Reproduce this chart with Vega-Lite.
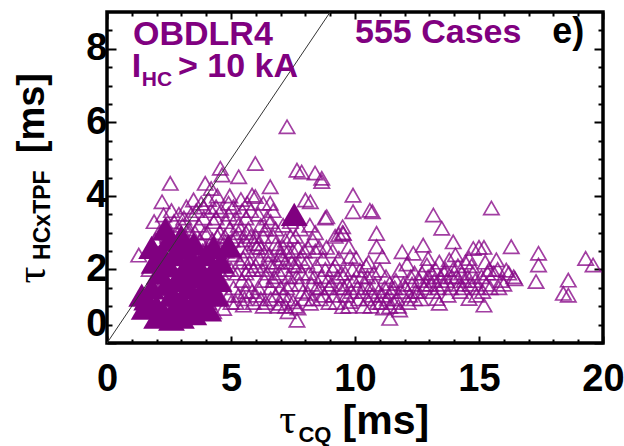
{
  "$schema": "https://vega.github.io/schema/vega-lite/v6.json",
  "width": 496,
  "height": 331,
  "autosize": {"type": "none"},
  "padding": {"left": 107, "top": 12, "right": 21, "bottom": 103},
  "background": "white",
  "config": {
    "view": {"stroke": "black", "strokeWidth": 3.5},
    "axis": {"domain": false, "grid": false, "tickColor": "black", "tickWidth": 2, "labelFont": "Liberation Sans", "labelFontWeight": "bold", "labelFontSize": 38, "labelColor": "black"}
  },
  "datasets": {
    "open": [
      {"cq":1.28,"hc":2.39},{"cq":1.75,"hc":1.03},{"cq":1.6,"hc":0.9},{"cq":1.9,"hc":3.3},{"cq":1.7,"hc":2.0},{"cq":1.95,"hc":2.8},
      {"cq":2.22,"hc":3.84},{"cq":2.55,"hc":4.34},{"cq":2.28,"hc":3.48},{"cq":2.1,"hc":3.0},{"cq":2.4,"hc":3.2},{"cq":2.3,"hc":1.0},{"cq":2.45,"hc":2.9},{"cq":2.05,"hc":1.4},
      {"cq":2.89,"hc":0.9},{"cq":2.6,"hc":3.6},{"cq":2.7,"hc":3.3},{"cq":2.8,"hc":3.0},{"cq":2.9,"hc":3.5},{"cq":2.65,"hc":2.8},{"cq":2.95,"hc":2.7},{"cq":2.75,"hc":1.1},{"cq":2.6,"hc":0.85},
      {"cq":3.49,"hc":3.89},{"cq":3.1,"hc":3.4},{"cq":3.2,"hc":3.7},{"cq":3.3,"hc":3.1},{"cq":3.4,"hc":3.5},{"cq":3.15,"hc":2.9},{"cq":3.45,"hc":2.7},{"cq":3.05,"hc":3.2},{"cq":3.35,"hc":0.85},{"cq":3.25,"hc":1.0},{"cq":3.4,"hc":2.5},
      {"cq":3.96,"hc":4.34},{"cq":3.6,"hc":3.6},{"cq":3.7,"hc":3.2},{"cq":3.8,"hc":3.8},{"cq":3.9,"hc":3.4},{"cq":3.55,"hc":3.0},{"cq":3.75,"hc":2.8},{"cq":3.85,"hc":2.5},{"cq":3.9,"hc":0.9},{"cq":3.65,"hc":1.2},{"cq":3.95,"hc":3.0},{"cq":3.6,"hc":2.2},{"cq":3.8,"hc":1.7},
      {"cq":4.3,"hc":0.85},{"cq":4.1,"hc":3.9},{"cq":4.2,"hc":3.6},{"cq":4.3,"hc":3.3},{"cq":4.4,"hc":3.7},{"cq":4.05,"hc":3.0},{"cq":4.25,"hc":2.8},{"cq":4.45,"hc":2.9},{"cq":4.15,"hc":2.2},{"cq":4.35,"hc":2.5},{"cq":4.4,"hc":1.9},{"cq":4.1,"hc":1.1},{"cq":4.3,"hc":1.5},{"cq":4.45,"hc":4.0},{"cq":4.2,"hc":4.2},
      {"cq":4.57,"hc":4.75},{"cq":4.64,"hc":4.57},{"cq":4.7,"hc":0.94},{"cq":4.6,"hc":3.6},{"cq":4.8,"hc":3.3},{"cq":4.9,"hc":3.8},{"cq":4.55,"hc":3.0},{"cq":4.75,"hc":2.9},{"cq":4.95,"hc":3.1},{"cq":4.65,"hc":2.3},{"cq":4.85,"hc":2.0},{"cq":4.7,"hc":1.6},{"cq":4.9,"hc":1.3},{"cq":4.6,"hc":1.9},{"cq":4.8,"hc":2.5},{"cq":4.95,"hc":4.0},
      {"cq":5.31,"hc":4.52},{"cq":5.5,"hc":1.03},{"cq":5.1,"hc":3.7},{"cq":5.2,"hc":3.4},{"cq":5.3,"hc":3.0},{"cq":5.45,"hc":3.6},{"cq":5.05,"hc":2.8},{"cq":5.15,"hc":2.4},{"cq":5.35,"hc":2.2},{"cq":5.4,"hc":2.6},{"cq":5.25,"hc":1.9},{"cq":5.1,"hc":1.5},{"cq":5.3,"hc":1.3},{"cq":5.45,"hc":1.7},{"cq":5.2,"hc":1.1},{"cq":5.4,"hc":3.9},{"cq":5.0,"hc":2.0},
      {"cq":5.98,"hc":4.88},{"cq":5.85,"hc":4.02},{"cq":5.98,"hc":3.98},{"cq":5.9,"hc":1.1},{"cq":5.6,"hc":3.4},{"cq":5.7,"hc":3.1},{"cq":5.8,"hc":3.6},{"cq":5.55,"hc":2.8},{"cq":5.65,"hc":2.5},{"cq":5.75,"hc":2.2},{"cq":5.95,"hc":2.7},{"cq":5.6,"hc":1.9},{"cq":5.7,"hc":1.6},{"cq":5.85,"hc":1.4},{"cq":5.9,"hc":2.0},{"cq":5.55,"hc":1.2},{"cq":5.8,"hc":2.9},{"cq":5.65,"hc":3.8},
      {"cq":6.1,"hc":3.5},{"cq":6.2,"hc":3.2},{"cq":6.3,"hc":2.9},{"cq":6.45,"hc":3.4},{"cq":6.05,"hc":2.6},{"cq":6.15,"hc":2.3},{"cq":6.25,"hc":2.0},{"cq":6.4,"hc":2.5},{"cq":6.35,"hc":1.7},{"cq":6.1,"hc":1.5},{"cq":6.2,"hc":1.2},{"cq":6.45,"hc":1.9},{"cq":6.3,"hc":3.8},{"cq":6.0,"hc":2.1},{"cq":6.4,"hc":1.1},
      {"cq":6.58,"hc":4.25},{"cq":6.58,"hc":3.8},{"cq":7.0,"hc":1.08},{"cq":6.6,"hc":3.3},{"cq":6.7,"hc":2.9},{"cq":6.8,"hc":3.1},{"cq":6.9,"hc":2.6},{"cq":6.55,"hc":2.4},{"cq":6.65,"hc":2.1},{"cq":6.75,"hc":1.8},{"cq":6.85,"hc":2.2},{"cq":6.95,"hc":1.9},{"cq":6.6,"hc":1.5},{"cq":6.8,"hc":1.3},{"cq":6.7,"hc":3.6},{"cq":6.9,"hc":1.0},
      {"cq":7.26,"hc":5.88},{"cq":7.5,"hc":1.12},{"cq":7.1,"hc":3.2},{"cq":7.2,"hc":2.8},{"cq":7.3,"hc":2.5},{"cq":7.4,"hc":2.9},{"cq":7.05,"hc":2.3},{"cq":7.15,"hc":2.0},{"cq":7.35,"hc":1.8},{"cq":7.45,"hc":2.2},{"cq":7.25,"hc":1.5},{"cq":7.1,"hc":1.3},{"cq":7.4,"hc":3.3},{"cq":7.2,"hc":1.0},{"cq":7.3,"hc":0.85},
      {"cq":7.66,"hc":4.7},{"cq":7.66,"hc":0.62},{"cq":7.85,"hc":4.65},{"cq":7.9,"hc":1.4},{"cq":8.0,"hc":3.89},{"cq":7.6,"hc":2.9},{"cq":7.7,"hc":2.6},{"cq":7.8,"hc":2.3},{"cq":7.95,"hc":2.5},{"cq":7.55,"hc":2.1},{"cq":7.65,"hc":1.8},{"cq":7.75,"hc":1.6},{"cq":7.85,"hc":1.9},{"cq":7.95,"hc":1.2},{"cq":7.6,"hc":1.0},{"cq":7.8,"hc":3.1},{"cq":7.7,"hc":0.95},
      {"cq":8.2,"hc":3.84},{"cq":8.39,"hc":4.62},{"cq":8.18,"hc":3.2},{"cq":8.2,"hc":1.08},{"cq":8.1,"hc":1.35},{"cq":8.3,"hc":2.8},{"cq":8.4,"hc":2.5},{"cq":8.05,"hc":2.2},{"cq":8.15,"hc":1.9},{"cq":8.25,"hc":1.6},{"cq":8.35,"hc":1.8},{"cq":8.45,"hc":2.1},{"cq":8.3,"hc":1.2},{"cq":8.45,"hc":1.5},{"cq":8.1,"hc":2.6},{"cq":8.4,"hc":3.0},
      {"cq":8.66,"hc":4.48},{"cq":8.66,"hc":4.39},{"cq":8.86,"hc":3.43},{"cq":8.8,"hc":3.4},{"cq":8.6,"hc":1.2},{"cq":8.55,"hc":2.6},{"cq":8.7,"hc":2.3},{"cq":8.8,"hc":2.0},{"cq":8.9,"hc":1.7},{"cq":8.6,"hc":1.5},{"cq":8.75,"hc":1.3},{"cq":8.95,"hc":1.5},{"cq":8.65,"hc":1.8},{"cq":8.85,"hc":2.6},{"cq":8.95,"hc":1.1},
      {"cq":9.2,"hc":2.9},{"cq":9.35,"hc":2.95},{"cq":9.5,"hc":3.0},{"cq":9.5,"hc":3.16},{"cq":9.5,"hc":0.99},{"cq":9.1,"hc":2.5},{"cq":9.2,"hc":2.1},{"cq":9.3,"hc":1.8},{"cq":9.4,"hc":1.5},{"cq":9.05,"hc":1.6},{"cq":9.15,"hc":1.3},{"cq":9.25,"hc":1.1},{"cq":9.45,"hc":1.9},{"cq":9.35,"hc":2.3},{"cq":9.1,"hc":2.0},
      {"cq":9.92,"hc":4.02},{"cq":9.92,"hc":3.57},{"cq":9.53,"hc":2.98},{"cq":9.75,"hc":2.62},{"cq":9.8,"hc":2.35},{"cq":9.8,"hc":1.13},{"cq":9.6,"hc":1.9},{"cq":9.7,"hc":1.6},{"cq":9.85,"hc":1.4},{"cq":9.65,"hc":1.3},{"cq":9.95,"hc":1.7},{"cq":9.55,"hc":1.5},{"cq":9.9,"hc":2.0},{"cq":9.75,"hc":1.0},
      {"cq":10.2,"hc":1.98},{"cq":10.5,"hc":1.8},{"cq":10.5,"hc":1.2},{"cq":10.1,"hc":1.5},{"cq":10.3,"hc":1.4},{"cq":10.4,"hc":1.6},{"cq":10.15,"hc":1.2},{"cq":10.35,"hc":1.0},{"cq":10.45,"hc":2.1},{"cq":10.25,"hc":1.8},{"cq":10.05,"hc":2.3},
      {"cq":10.6,"hc":3.61},{"cq":10.7,"hc":3.57},{"cq":10.87,"hc":2.98},{"cq":10.87,"hc":2.62},{"cq":10.6,"hc":1.5},{"cq":10.7,"hc":1.3},{"cq":10.8,"hc":1.6},{"cq":10.9,"hc":1.1},{"cq":10.65,"hc":1.0},{"cq":10.95,"hc":1.4},{"cq":10.75,"hc":1.9},{"cq":10.55,"hc":2.2},
      {"cq":11.1,"hc":2.35},{"cq":11.0,"hc":1.98},{"cq":11.4,"hc":1.62},{"cq":11.4,"hc":0.99},{"cq":11.4,"hc":0.67},{"cq":11.1,"hc":1.3},{"cq":11.2,"hc":1.5},{"cq":11.3,"hc":1.2},{"cq":11.05,"hc":1.1},{"cq":11.25,"hc":1.8},{"cq":11.45,"hc":1.4},{"cq":11.15,"hc":0.95},
      {"cq":11.9,"hc":2.48},{"cq":11.8,"hc":1.98},{"cq":11.8,"hc":0.9},{"cq":11.6,"hc":1.5},{"cq":11.7,"hc":1.2},{"cq":11.85,"hc":1.4},{"cq":11.55,"hc":1.1},{"cq":11.65,"hc":1.7},{"cq":11.95,"hc":1.6},{"cq":11.75,"hc":1.0},
      {"cq":12.35,"hc":2.44},{"cq":12.1,"hc":2.15},{"cq":12.2,"hc":1.3},{"cq":12.3,"hc":1.6},{"cq":12.4,"hc":1.9},{"cq":12.05,"hc":1.5},{"cq":12.15,"hc":1.1},{"cq":12.45,"hc":1.4},{"cq":12.25,"hc":1.8},{"cq":12.4,"hc":1.2},
      {"cq":12.75,"hc":2.66},{"cq":12.9,"hc":2.12},{"cq":12.6,"hc":1.7},{"cq":12.7,"hc":1.9},{"cq":12.8,"hc":1.5},{"cq":12.95,"hc":1.8},{"cq":12.55,"hc":1.4},{"cq":12.65,"hc":1.2},{"cq":12.85,"hc":1.6},{"cq":12.95,"hc":2.3},
      {"cq":13.16,"hc":3.48},{"cq":13.5,"hc":3.12},{"cq":13.4,"hc":2.2},{"cq":13.3,"hc":1.21},{"cq":13.4,"hc":1.08},{"cq":13.1,"hc":1.9},{"cq":13.2,"hc":1.7},{"cq":13.35,"hc":1.5},{"cq":13.45,"hc":1.8},{"cq":13.05,"hc":1.6},{"cq":13.25,"hc":2.0},{"cq":13.15,"hc":1.4},
      {"cq":13.96,"hc":2.75},{"cq":13.8,"hc":2.26},{"cq":13.6,"hc":1.9},{"cq":13.7,"hc":1.7},{"cq":13.85,"hc":1.5},{"cq":13.55,"hc":1.6},{"cq":13.65,"hc":2.0},{"cq":13.9,"hc":1.8},{"cq":13.75,"hc":1.3},{"cq":13.95,"hc":2.0},
      {"cq":14.1,"hc":1.8},{"cq":14.2,"hc":1.6},{"cq":14.3,"hc":1.9},{"cq":14.4,"hc":1.7},{"cq":14.15,"hc":2.1},{"cq":14.35,"hc":1.5},{"cq":14.45,"hc":2.2},{"cq":14.25,"hc":1.4},{"cq":14.05,"hc":2.4},
      {"cq":14.77,"hc":2.57},{"cq":14.6,"hc":1.21},{"cq":14.55,"hc":1.8},{"cq":14.65,"hc":1.6},{"cq":14.75,"hc":1.9},{"cq":14.85,"hc":1.7},{"cq":14.95,"hc":1.5},{"cq":14.7,"hc":2.1},{"cq":14.9,"hc":1.3},{"cq":14.6,"hc":2.3},
      {"cq":15.0,"hc":2.6},{"cq":15.2,"hc":2.6},{"cq":15.5,"hc":3.67},{"cq":15.2,"hc":1.03},{"cq":15.1,"hc":1.8},{"cq":15.3,"hc":1.6},{"cq":15.4,"hc":2.0},{"cq":15.15,"hc":1.4},{"cq":15.35,"hc":1.9},{"cq":15.45,"hc":1.5},{"cq":15.25,"hc":2.2},
      {"cq":15.7,"hc":2.26},{"cq":16.1,"hc":1.98},{"cq":16.4,"hc":1.8},{"cq":15.9,"hc":1.7},{"cq":16.3,"hc":2.62},{"cq":15.6,"hc":1.9},{"cq":15.8,"hc":1.5},{"cq":16.0,"hc":1.6},{"cq":16.2,"hc":1.9},{"cq":15.75,"hc":2.0},{"cq":16.45,"hc":1.75},
      {"cq":17.4,"hc":2.44},{"cq":17.4,"hc":2.12},{"cq":17.3,"hc":1.67},{"cq":19.3,"hc":2.3},{"cq":19.6,"hc":2.12},{"cq":18.6,"hc":1.71},{"cq":18.4,"hc":1.35},{"cq":18.6,"hc":1.3},
      {"cq":2.3,"hc":2.0},{"cq":2.5,"hc":2.6},{"cq":2.8,"hc":2.2},{"cq":3.0,"hc":1.8},{"cq":3.2,"hc":2.4},{"cq":3.5,"hc":2.0},{"cq":3.7,"hc":1.5},{"cq":4.0,"hc":2.6},{"cq":4.2,"hc":1.4},{"cq":4.5,"hc":2.6},{"cq":4.7,"hc":2.7},{"cq":5.0,"hc":2.5},{"cq":5.2,"hc":2.9},{"cq":5.5,"hc":2.3},{"cq":5.7,"hc":2.0},{"cq":6.0,"hc":2.9},{"cq":6.2,"hc":2.6},{"cq":6.5,"hc":2.2},{"cq":6.7,"hc":1.7},{"cq":7.0,"hc":2.4},{"cq":7.2,"hc":2.2},{"cq":7.5,"hc":2.5},{"cq":7.7,"hc":2.1},{"cq":3.3,"hc":3.0},{"cq":3.6,"hc":2.7},{"cq":3.9,"hc":3.7},{"cq":4.4,"hc":3.4},{"cq":4.9,"hc":3.5},{"cq":5.3,"hc":3.2},{"cq":5.6,"hc":3.0},{"cq":6.1,"hc":2.7},{"cq":6.4,"hc":3.1},{"cq":6.8,"hc":2.7},{"cq":7.1,"hc":2.6},{"cq":7.4,"hc":1.6},{"cq":2.6,"hc":1.9},{"cq":2.9,"hc":1.4},{"cq":3.1,"hc":1.1},{"cq":3.4,"hc":1.3},{"cq":3.7,"hc":1.0},{"cq":4.6,"hc":1.2},{"cq":5.0,"hc":1.1},{"cq":5.6,"hc":1.4},{"cq":6.0,"hc":1.3},{"cq":6.3,"hc":1.0},{"cq":6.6,"hc":1.2},{"cq":7.0,"hc":1.5},{"cq":7.3,"hc":1.2}
    ],
    "filled": [
      {"cq":1.6,"hc":1.2},{"cq":1.8,"hc":1.5},{"cq":2.0,"hc":1.0},{"cq":2.1,"hc":1.9},{"cq":2.2,"hc":2.45},{"cq":2.35,"hc":3.1},{"cq":2.5,"hc":2.1},{"cq":2.6,"hc":1.3},{"cq":2.7,"hc":0.9},{"cq":2.8,"hc":1.7},{"cq":2.9,"hc":2.6},{"cq":3.0,"hc":1.2},{"cq":3.1,"hc":2.0},{"cq":3.2,"hc":0.9},{"cq":3.3,"hc":1.5},{"cq":3.4,"hc":2.3},{"cq":3.5,"hc":1.1},{"cq":3.6,"hc":1.8},{"cq":3.7,"hc":2.1},{"cq":3.8,"hc":1.4},{"cq":4.0,"hc":2.4},{"cq":4.0,"hc":1.6},{"cq":4.2,"hc":1.9},{"cq":4.4,"hc":1.3},{"cq":4.6,"hc":2.2},{"cq":4.9,"hc":2.65},{"cq":1.9,"hc":2.2},{"cq":2.4,"hc":1.6},{"cq":2.7,"hc":2.4},{"cq":3.0,"hc":2.9},{"cq":1.5,"hc":0.95},{"cq":2.3,"hc":0.8},{"cq":7.55,"hc":3.5},{"cq":3.9,"hc":1.0},{"cq":4.5,"hc":1.7},
      {"cq":1.4,"hc":1.3},{"cq":2.0,"hc":0.7},{"cq":2.6,"hc":0.65},{"cq":3.0,"hc":0.7},{"cq":3.5,"hc":0.8},{"cq":4.1,"hc":0.9},{"cq":1.8,"hc":2.6},{"cq":3.5,"hc":2.7},{"cq":4.3,"hc":2.6},{"cq":3.2,"hc":1.8},{"cq":2.5,"hc":2.8}
    ],
    "diag": [{"cq":0,"hc":0},{"cq":9,"hc":9}]
  },
  "resolve": {"axis": {"x": "independent", "y": "independent"}},
  "layer": [
    {
      "data": {"name": "open"},
      "mark": {"type": "point", "shape": "triangle-up", "filled": false, "size": 235, "color": "#880888", "strokeWidth": 1.7, "opacity": 0.78},
      "encoding": {
        "x": {"field": "cq", "type": "quantitative", "scale": {"domain": [0, 20], "nice": false, "zero": false},
              "axis": {"orient": "bottom", "title": null, "values": [0, 5, 10, 15, 20], "tickSize": -7, "labelPadding": 24, "labelFlush": false, "labelOverlap": false}},
        "y": {"field": "hc", "type": "quantitative", "scale": {"domain": [0, 9], "nice": false, "zero": false},
              "axis": {"orient": "left", "title": null, "values": [0, 2, 4, 6, 8], "tickSize": -9, "labelPadding": 9, "labelFlush": true, "labelOverlap": false}}
      }
    },
    {
      "data": {"name": "filled"},
      "mark": {"type": "point", "shape": "triangle-up", "filled": true, "size": 720, "color": "#800080", "opacity": 1},
      "encoding": {
        "x": {"field": "cq", "type": "quantitative", "axis": {"orient": "bottom", "title": null, "values": [1,2,3,4,6,7,8,9,11,12,13,14,16,17,18,19], "tickSize": -4, "labels": false}},
        "y": {"field": "hc", "type": "quantitative", "axis": {"orient": "left", "title": null, "values": [0.5,1,1.5,2.5,3,3.5,4.5,5,5.5,6.5,7,7.5,8.5], "tickSize": -5, "labels": false}}
      }
    },
    {
      "data": {"name": "diag"},
      "mark": {"type": "line", "color": "#333333", "strokeWidth": 1, "clip": true},
      "encoding": {
        "x": {"field": "cq", "type": "quantitative", "axis": {"orient": "top", "title": null, "values": [0, 5, 10, 15, 20], "tickSize": -7, "labels": false}},
        "y": {"field": "hc", "type": "quantitative", "axis": {"orient": "right", "title": null, "values": [0, 2, 4, 6, 8], "tickSize": -9, "labels": false}}
      }
    },
    {
      "data": {"values": [{}]},
      "mark": {"type": "text", "text": "OBDLR4", "font": "Liberation Sans", "fontWeight": "bold", "fontSize": 34, "color": "#800080", "align": "left", "baseline": "alphabetic"},
      "encoding": {
        "x": {"datum": 1.05, "type": "quantitative", "axis": {"orient": "top", "title": null, "values": [1,2,3,4,6,7,8,9,11,12,13,14,16,17,18,19], "tickSize": -4, "labels": false}},
        "y": {"datum": 8.1, "type": "quantitative", "axis": {"orient": "right", "title": null, "values": [0.5,1,1.5,2.5,3,3.5,4.5,5,5.5,6.5,7,7.5,8.5], "tickSize": -5, "labels": false}}
      }
    },
    {
      "data": {"values": [{}]},
      "mark": {"type": "text", "text": "I", "font": "Liberation Sans", "fontWeight": "bold", "fontSize": 34, "color": "#800080", "align": "left", "baseline": "alphabetic"},
      "encoding": {"x": {"datum": 1.0, "type": "quantitative", "axis": null}, "y": {"datum": 7.23, "type": "quantitative", "axis": null}}
    },
    {
      "data": {"values": [{}]},
      "mark": {"type": "text", "text": "HC", "font": "Liberation Sans", "fontWeight": "bold", "fontSize": 21, "color": "#800080", "align": "left", "baseline": "alphabetic"},
      "encoding": {"x": {"datum": 1.4, "type": "quantitative", "axis": null}, "y": {"datum": 7.0, "type": "quantitative", "axis": null}}
    },
    {
      "data": {"values": [{}]},
      "mark": {"type": "text", "text": "> 10 kA", "font": "Liberation Sans", "fontWeight": "bold", "fontSize": 34, "color": "#800080", "align": "left", "baseline": "alphabetic"},
      "encoding": {"x": {"datum": 2.86, "type": "quantitative", "axis": null}, "y": {"datum": 7.23, "type": "quantitative", "axis": null}}
    },
    {
      "data": {"values": [{}]},
      "mark": {"type": "text", "text": "555 Cases", "font": "Liberation Sans", "fontWeight": "bold", "fontSize": 34, "color": "#800080", "align": "left", "baseline": "alphabetic"},
      "encoding": {"x": {"datum": 10.0, "type": "quantitative", "axis": null}, "y": {"datum": 8.15, "type": "quantitative", "axis": null}}
    },
    {
      "data": {"values": [{}]},
      "mark": {"type": "text", "text": "e)", "font": "Liberation Sans", "fontWeight": "bold", "fontSize": 36, "color": "black", "align": "left", "baseline": "alphabetic"},
      "encoding": {"x": {"datum": 17.95, "type": "quantitative", "axis": null}, "y": {"datum": 8.15, "type": "quantitative", "axis": null}}
    },
    {
      "data": {"values": [{}]},
      "mark": {"type": "text", "text": "τ", "font": "Liberation Serif", "fontSize": 42, "color": "black", "align": "left", "baseline": "alphabetic"},
      "encoding": {"x": {"datum": 6.95, "type": "quantitative", "axis": null}, "y": {"datum": -2.45, "type": "quantitative", "axis": null}}
    },
    {
      "data": {"values": [{}]},
      "mark": {"type": "text", "text": "CQ", "font": "Liberation Sans", "fontWeight": "bold", "fontSize": 22, "color": "black", "align": "left", "baseline": "alphabetic"},
      "encoding": {"x": {"datum": 7.72, "type": "quantitative", "axis": null}, "y": {"datum": -2.7, "type": "quantitative", "axis": null}}
    },
    {
      "data": {"values": [{}]},
      "mark": {"type": "text", "text": "[ms]", "font": "Liberation Sans", "fontWeight": "bold", "fontSize": 41, "color": "black", "align": "left", "baseline": "alphabetic"},
      "encoding": {"x": {"datum": 9.5, "type": "quantitative", "axis": null}, "y": {"datum": -2.47, "type": "quantitative", "axis": null}}
    },
    {
      "data": {"values": [{}]},
      "mark": {"type": "text", "text": "τ", "font": "Liberation Serif", "fontSize": 42, "color": "black", "align": "left", "baseline": "alphabetic", "angle": 270},
      "encoding": {"x": {"datum": -2.5, "type": "quantitative", "axis": null}, "y": {"datum": 1.62, "type": "quantitative", "axis": null}}
    },
    {
      "data": {"values": [{}]},
      "mark": {"type": "text", "text": "HCxTPF", "font": "Liberation Sans", "fontWeight": "bold", "fontSize": 23, "color": "black", "align": "left", "baseline": "alphabetic", "angle": 270},
      "encoding": {"x": {"datum": -2.28, "type": "quantitative", "axis": null}, "y": {"datum": 2.26, "type": "quantitative", "axis": null}}
    },
    {
      "data": {"values": [{}]},
      "mark": {"type": "text", "text": "[ms]", "font": "Liberation Sans", "fontWeight": "bold", "fontSize": 38, "color": "black", "align": "left", "baseline": "alphabetic", "angle": 270},
      "encoding": {"x": {"datum": -2.54, "type": "quantitative", "axis": null}, "y": {"datum": 5.16, "type": "quantitative", "axis": null}}
    }
  ]
}
